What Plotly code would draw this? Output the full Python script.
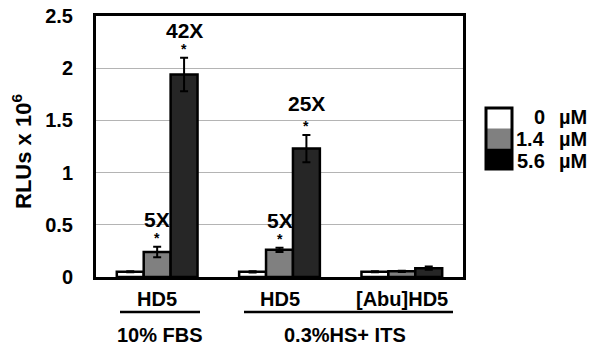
import plotly.graph_objects as go

# ---- data ----
group_x = [0, 1, 2]
group_labels = ["HD5", "HD5", "[Abu]HD5"]
series_names = ["0", "1.4", "5.6"]
unit = "µM"
vals_0 = [0.05, 0.05, 0.05]
err_0 = [0.005, 0.006, 0.005]
vals_14 = [0.24, 0.26, 0.055]
err_14 = [0.05, 0.02, 0.006]
vals_56 = [1.94, 1.23, 0.085]
err_56 = [0.16, 0.13, 0.015]
fold_labels = [("5X", 0, 1), ("42X", 0, 2), ("5X", 1, 1), ("25X", 1, 2)]
condition_labels = ["10% FBS", "0.3%HS+ ITS"]

FONT = "Liberation Sans, Arial, sans-serif"
colors = ["#ffffff", "#808080", "#262626"]
legend_colors = ["#ffffff", "#808080", "#000000"]

W, H = 590, 346
L, R, T, B = 96, 463, 16, 277

fig = go.Figure()
all_vals = [vals_0, vals_14, vals_56]
all_errs = [err_0, err_14, err_56]
for name, v, e, c in zip(series_names, all_vals, all_errs, colors):
    fig.add_trace(go.Bar(
        x=group_x, y=v, name=name + " " + unit,
        marker=dict(color=c, line=dict(color="black", width=2.5)),
        error_y=dict(type="data", array=e, color="black", thickness=2, width=4),
        showlegend=False,
    ))

bw = 0.22
offsets = [-bw, 0, bw]
ann = []
for text, g, s in fold_labels:
    top = all_vals[s][g] + all_errs[s][g]
    ann.append(dict(x=group_x[g] + offsets[s], y=top, xref="x", yref="y", text="<b>*</b>",
                    showarrow=False, xanchor="center", yanchor="bottom", yshift=-1,
                    font=dict(family=FONT, size=14, color="black")))
    ann.append(dict(x=group_x[g] + offsets[s], y=top, xref="x", yref="y", text="<b>%s</b>" % text,
                    showarrow=False, xanchor="center", yanchor="bottom",
                    yshift=14 if text != "25X" else 18,
                    font=dict(family=FONT, size=21, color="black")))

def px_x(p):
    return (p - L) / (R - L)

def px_y(p):
    return (B - p) / (B - T)

# category labels
for gx, lab in zip(group_x, group_labels):
    ann.append(dict(x=gx, y=px_y(299), xref="x", yref="paper", text="<b>%s</b>" % lab,
                    showarrow=False, xanchor="center", yanchor="middle",
                    font=dict(family=FONT, size=20, color="black")))
for cx, lab in zip([160, 345], condition_labels):
    ann.append(dict(x=px_x(cx), y=px_y(335), xref="paper", yref="paper", text="<b>%s</b>" % lab,
                    showarrow=False, xanchor="center", yanchor="middle",
                    font=dict(family=FONT, size=20, color="black")))

# y title
ann.append(dict(x=px_x(22), y=px_y(152), xref="paper", yref="paper", text="<b>RLUs x 10<sup>6</sup></b>",
                showarrow=False, textangle=-90, xanchor="center", yanchor="middle",
                font=dict(family=FONT, size=22, color="black")))

shapes = []
# underlines
for x0, x1 in [(120, 200), (244, 453)]:
    shapes.append(dict(type="line", xref="paper", yref="paper", x0=px_x(x0), x1=px_x(x1),
                       y0=px_y(312), y1=px_y(312), line=dict(color="black", width=2.5)))

# legend
lx0, lx1 = 486, 512
ly = [108, 128.5, 148.5, 169]
for i, c in enumerate(legend_colors):
    shapes.append(dict(type="rect", xref="paper", yref="paper", x0=px_x(lx0), x1=px_x(lx1),
                       y0=px_y(ly[i + 1]), y1=px_y(ly[i]), fillcolor=c, line=dict(width=0)))
shapes.append(dict(type="rect", xref="paper", yref="paper", x0=px_x(lx0), x1=px_x(lx1),
                   y0=px_y(ly[3]), y1=px_y(ly[0]), line=dict(color="black", width=3)))
rows = [117, 139, 161]
for name, ry in zip(series_names, rows):
    ann.append(dict(x=px_x(547), y=px_y(ry), xref="paper", yref="paper", text="<b>%s</b>" % name,
                    showarrow=False, xanchor="right", yanchor="middle",
                    font=dict(family=FONT, size=20, color="black")))
    ann.append(dict(x=px_x(557), y=px_y(ry), xref="paper", yref="paper", text="<b>%s</b>" % unit,
                    showarrow=False, xanchor="left", yanchor="middle",
                    font=dict(family=FONT, size=20, color="black")))

fig.update_layout(
    width=W, height=H,
    margin=dict(l=L, r=W - R, t=T, b=H - B, autoexpand=False),
    paper_bgcolor="white", plot_bgcolor="white",
    barmode="group", bargap=0.34, bargroupgap=0,
    annotations=ann, shapes=shapes,
    font=dict(family=FONT, color="black"),
)
fig.update_xaxes(range=[-0.5, 2.5], tickvals=group_x, showticklabels=False, showgrid=False,
                 showline=True, mirror=True, linecolor="black", linewidth=3, zeroline=False)
fig.update_yaxes(range=[0, 2.5], tickvals=[0, 0.5, 1, 1.5, 2, 2.5], ticktext=["0", "0.5", "1", "1.5", "2", "2.5"],
                 showgrid=True, gridcolor="#b4b4b4", gridwidth=1,
                 showline=True, mirror=True, linecolor="black", linewidth=3, zeroline=False,
                 ticks="", ticklabelstandoff=16,
                 tickfont=dict(family=FONT, size=20, color="black", weight="bold"))

fig.write_html("out.html", config={"displayModeBar": False},
               post_script="document.body.style.margin='0';document.body.style.overflow='hidden';")
